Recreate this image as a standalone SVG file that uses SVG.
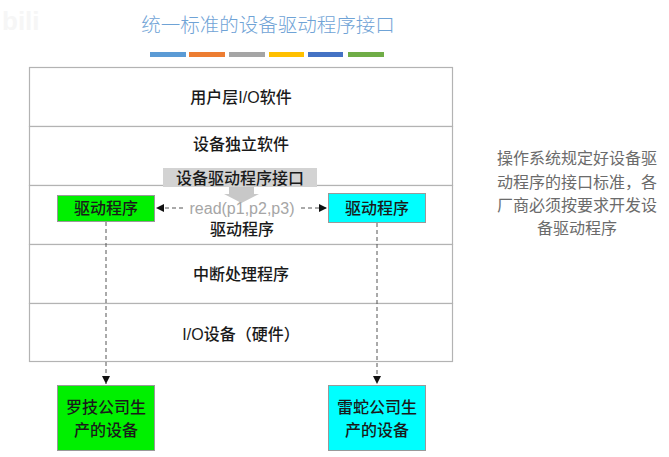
<svg xmlns="http://www.w3.org/2000/svg" width="669" height="457" viewBox="0 0 669 457">
<defs>
<style>
.t{font-family:"Liberation Sans","Noto Sans CJK SC",sans-serif;fill:#1a1a1a;font-size:16px;font-weight:500;text-anchor:middle}
.row{fill:#fff;stroke:#b3b3b3;stroke-width:1.2}
.box{stroke:#999;stroke-width:1}
.dash{stroke:#555;stroke-width:1;stroke-dasharray:4 3;fill:none}
.note{font-family:"Liberation Sans","Noto Sans CJK SC",sans-serif;fill:#6b6b6b;font-size:16px;text-anchor:middle}
</style>
<marker id="ah" viewBox="0 0 10 10" refX="10" refY="5" markerWidth="8" markerHeight="8" markerUnits="userSpaceOnUse" orient="auto">
<path d="M0,0 L10,5 L0,10 z" fill="#111"/>
</marker>
</defs>
<rect width="669" height="457" fill="#fff"/>
<text x="2" y="30" font-family="Liberation Sans,sans-serif" font-size="26" font-weight="bold" fill="#f6f6f6">bili</text>
<g id="title">
<text x="268" y="32" font-family="'Noto Sans CJK SC',sans-serif" font-size="19.5" font-weight="300" fill="#6fa3d6" text-anchor="middle">统一标准的设备驱动程序接口</text>
<rect x="150" y="52" width="36" height="5" fill="#5b9bd5"/>
<rect x="189" y="52" width="36" height="5" fill="#ed7d31"/>
<rect x="229" y="52" width="36" height="5" fill="#a5a5a5"/>
<rect x="269" y="52" width="35" height="5" fill="#ffc000"/>
<rect x="308" y="52" width="35" height="5" fill="#4472c4"/>
<rect x="348" y="52" width="36" height="5" fill="#70ad47"/>
</g>
<g id="layers">
<rect class="row" x="29.5" y="67.5" width="423" height="59"/>
<rect class="row" x="29.5" y="126.5" width="423" height="59"/>
<rect class="row" x="29.5" y="185.5" width="423" height="59"/>
<rect class="row" x="29.5" y="244.5" width="423" height="59"/>
<rect class="row" x="29.5" y="303.5" width="423" height="58"/>
<text class="t" x="241" y="103">用户层I/O软件</text>
<text class="t" x="241" y="150">设备独立软件</text>
<text class="t" x="242" y="235">驱动程序</text>
<text class="t" x="241" y="280">中断处理程序</text>
<text class="t" x="241" y="340">I/O设备（硬件）</text>
</g>
<g id="interface">
<path d="M229,186 L254,186 L254,194 L259,194 L241.5,203 L224,194 L229,194 z" fill="#c8c8c8"/>
<rect x="163" y="168" width="154" height="19" fill="#d3d3d3"/>
<text class="t" x="240" y="184">设备驱动程序接口</text>
</g>
<g id="driverA">
<rect class="box" x="57.5" y="195.5" width="97" height="26" fill="#00f000"/>
<text class="t" x="106" y="214">驱动程序</text>
</g>
<g id="driverB">
<rect class="box" x="328.5" y="193.5" width="97" height="29" fill="#00ffff"/>
<text class="t" x="377" y="214">驱动程序</text>
</g>
<g id="deviceA">
<rect class="box" x="57.5" y="385.5" width="97" height="65" fill="#00f000"/>
<text class="t" x="106" y="413">罗技公司生</text>
<text class="t" x="106" y="436">产的设备</text>
</g>
<g id="deviceB">
<rect class="box" x="328.5" y="385.5" width="97" height="65" fill="#00ffff"/>
<text class="t" x="377" y="413">雷蛇公司生</text>
<text class="t" x="377" y="436">产的设备</text>
</g>
<g id="connectors">
<line class="dash" x1="183" y1="208" x2="156" y2="208" marker-end="url(#ah)"/>
<line class="dash" x1="301" y1="208" x2="327" y2="208" marker-end="url(#ah)"/>
<text x="242" y="214" font-family="Liberation Sans,sans-serif" font-size="16" fill="#a6a6a6" text-anchor="middle">read(p1,p2,p3)</text>
<line class="dash" x1="106" y1="222" x2="106" y2="384" marker-end="url(#ah)"/>
<line class="dash" x1="377" y1="223" x2="377" y2="384" marker-end="url(#ah)"/>
</g>
<g id="note">
<text class="note" x="577" y="164">操作系统规定好设备驱</text>
<text class="note" x="577" y="188">动程序的接口标准，各</text>
<text class="note" x="577" y="211">厂商必须按要求开发设</text>
<text class="note" x="577" y="234">备驱动程序</text>
</g>
</svg>
